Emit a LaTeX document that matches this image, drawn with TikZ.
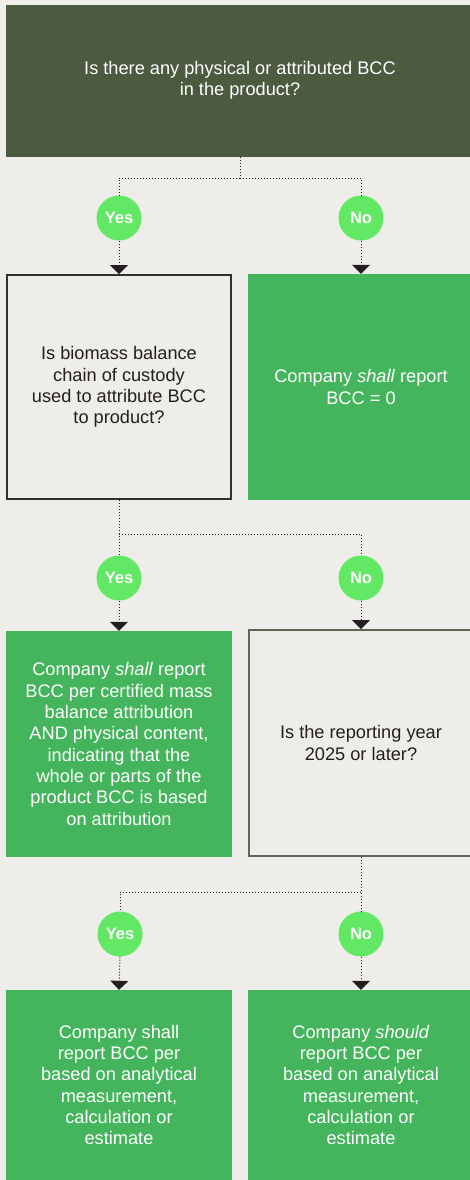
\documentclass[tikz,border=0pt]{standalone}
\usepackage{fontspec}
\setmainfont{Liberation Sans}
\usetikzlibrary{arrows.meta}
\definecolor{bgc}{HTML}{EEEDE9}
\definecolor{darkbox}{HTML}{4C5A40}
\definecolor{greenbox}{HTML}{44B55C}
\definecolor{bright}{HTML}{62E864}
\definecolor{ink}{HTML}{231F20}
\definecolor{edgeA}{HTML}{2F3524}
\definecolor{edgeB}{HTML}{5F6654}
\tikzset{
  txt/.style={align=center, font=\fontsize{18.2}{21.3}\selectfont},
  darkq/.style={txt, fill=darkbox, text=white, inner sep=0pt},
  openq/.style={txt, fill=bgc, draw=edgeA, line width=2pt, text=ink, inner sep=0pt},
  openqb/.style={txt, fill=bgc, draw=edgeB, line width=2pt, text=ink, inner sep=0pt},
  answer/.style={txt, fill=greenbox, text=white, inner sep=0pt},
  badge/.style={circle, fill=bright, text=white, minimum size=45pt, inner sep=0pt,
    font=\fontsize{16.5}{16.5}\selectfont\bfseries},
  dotline/.style={draw=ink, line width=1pt, dash pattern=on 1pt off 2pt},
  arrowline/.style={dotline, -{Triangle[width=18pt,length=9pt]}},
}
\begin{document}
\begin{tikzpicture}[x=1pt,y=1pt]
\fill[bgc] (0,0) rectangle (470,-1180);
\useasboundingbox (0,0) rectangle (470,-1180);
% boxes
\node[darkq, minimum width=468pt, minimum height=152pt] (q1) at (240,-81)
  {\raisebox{-2pt}{\begin{tabular}{@{}c@{}}Is there any physical or attributed BCC\\in the product?\end{tabular}}};
\node[openq, minimum width=224pt, minimum height=224pt] (q2) at (119,-387)
  {Is biomass balance\\chain of custody\\used to attribute BCC\\to product?};
\node[answer, minimum width=226pt, minimum height=226pt] (a1) at (361,-387)
  {Company \textit{shall} report\\BCC = 0};
\node[answer, minimum width=226pt, minimum height=226pt] (a2) at (119,-744)
  {Company \textit{shall} report\\BCC per certified mass\\balance attribution\\AND physical content,\\indicating that the\\whole or parts of the\\product BCC is based\\on attribution};
\node[openqb, minimum width=224pt, minimum height=226pt] (q3) at (361,-743)
  {Is the reporting year\\2025 or later?};
\node[answer, minimum width=226pt, minimum height=190pt] (a3) at (119,-1085)
  {Company shall\\report BCC per\\based on analytical\\measurement,\\calculation or\\estimate};
\node[answer, minimum width=226pt, minimum height=190pt] (a4) at (361,-1085)
  {Company \textit{should}\\report BCC per\\based on analytical\\measurement,\\calculation or\\estimate};
% badges
\node[badge] (y1) at (119,-218) {Yes};
\node[badge] (n1) at (361,-218) {No};
\node[badge] (y2) at (119,-578) {Yes};
\node[badge] (n2) at (361,-578) {No};
\node[badge] (y3) at (120,-934) {Yes};
\node[badge] (n3) at (361,-934) {No};
% connectors level 1
\coordinate (j1) at (240,-178);
\draw[dotline] (q1.south) -- (j1);
\draw[dotline] (j1) -| (y1.north);
\draw[dotline] (j1) -| (n1.north);
\draw[arrowline] (y1.south) -- (q2.north);
\draw[arrowline] (n1.south) -- (a1.north);
% level 2
\coordinate (j2) at (119,-534);
\draw[dotline] (q2.south) -- (y2.north);
\draw[dotline] (j2) -| (n2.north);
\draw[arrowline] (y2.south) -- (a2.north);
\draw[arrowline] (n2.south) -- (q3.north);
% level 3
\coordinate (j3) at (361,-892);
\draw[dotline] (q3.south) -- (n3.north);
\draw[dotline] (j3) -| (y3.north);
\draw[arrowline] (y3.south) -- (a3.north);
\draw[arrowline] (n3.south) -- (a4.north);
\end{tikzpicture}
\end{document}
